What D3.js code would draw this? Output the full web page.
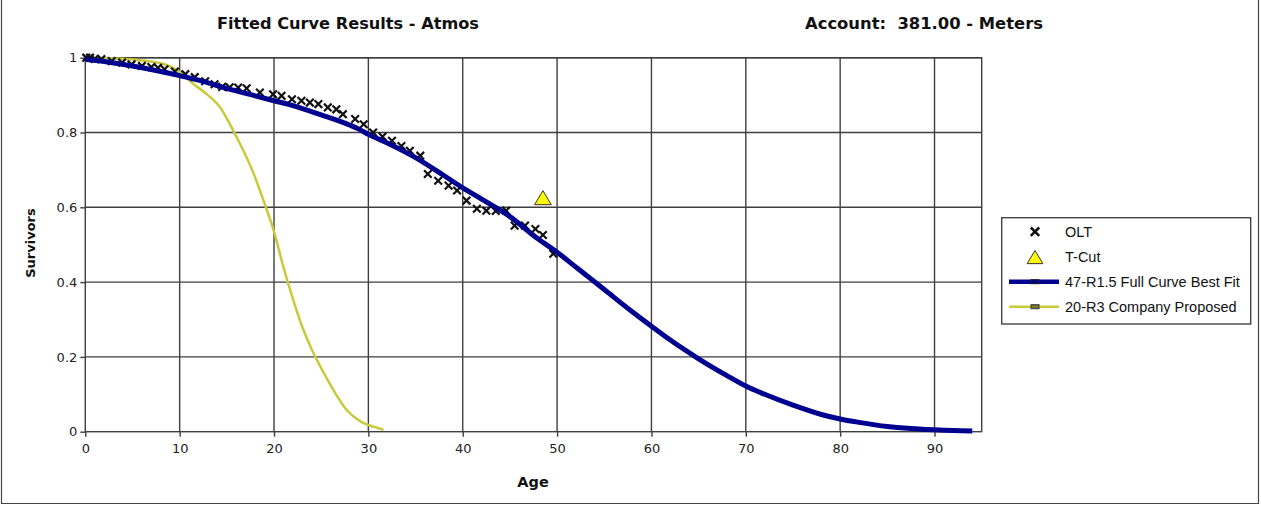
<!DOCTYPE html>
<html><head><meta charset="utf-8">
<script src="https://cdn.jsdelivr.net/npm/d3@7"></script>
<style>
html,body{margin:0;padding:0;background:#fff;}
svg{display:block;}
</style></head>
<body>
<svg id="chart" width="1261" height="506"></svg>
<script>
// ---------- data ----------
const chartTitle = "Fitted Curve Results - Atmos";
const accountTitle = "Account:  381.00 - Meters";
const xTicks = [0,10,20,30,40,50,60,70,80,90];
const yTicks = [0,0.2,0.4,0.6,0.8,1];
const yTickLabels = ["0","0.2","0.4","0.6","0.8","1"];
const seriesNames = ["OLT","T-Cut","47-R1.5 Full Curve Best Fit","20-R3 Company Proposed"];

const oltAges = [0.1,0.5,1,1.7,2.8,3.9,4.9,6.0,7.0,7.7,8.4,9.5,10.6,11.6,12.7,13.7,14.5,15.3,16.2,17.1,18.5,19.9,20.8,21.9,22.9,23.8,24.7,25.7,26.6,27.3,28.6,29.5,30.5,31.5,32.5,33.5,34.4,35.5,36.3,37.4,38.5,39.4,40.4,41.5,42.5,43.5,44.6,45.5,46.6,47.7,48.5,49.6];
const oltValues = [1.0,1.0,0.997,0.996,0.991,0.987,0.982,0.978,0.975,0.973,0.969,0.963,0.956,0.948,0.937,0.929,0.922,0.921,0.92,0.918,0.907,0.902,0.898,0.889,0.885,0.88,0.876,0.867,0.862,0.849,0.836,0.822,0.80,0.789,0.778,0.764,0.751,0.738,0.689,0.671,0.658,0.645,0.618,0.596,0.591,0.59,0.591,0.551,0.551,0.542,0.526,0.476];

const tcutAge = [48.5];
const tcutValue = [0.623];

const fitAges = [0,2,5,8,10,12,15,18,20,22,25,28,29,30,32,35,38,40,42,45,48,50,52,55,58,60,62,65,68,70,72,75,78,80,82,85,88,90,92,94];
const fitValues = [0.996,0.99,0.978,0.963,0.952,0.94,0.918,0.898,0.885,0.872,0.847,0.82,0.809,0.795,0.772,0.733,0.685,0.652,0.622,0.575,0.515,0.48,0.44,0.38,0.32,0.282,0.245,0.195,0.15,0.122,0.1,0.071,0.046,0.034,0.025,0.014,0.008,0.005,0.003,0.002];

const propAges = [0,3,5,8,10,11.5,12.9,14.3,15.7,17.1,18,19,20,21,22,23,24,25,25.7,26.3,27.7,29.2,30,31,31.6];
const propValues = [1.0,0.998,0.995,0.985,0.962,0.929,0.902,0.867,0.804,0.733,0.68,0.61,0.535,0.44,0.355,0.28,0.22,0.17,0.138,0.111,0.058,0.027,0.018,0.01,0.005];

// ---------- layout ----------
const svg = d3.select("#chart");
const plot = {left: 85.3, right: 981.7, top: 57.7, bottom: 431.7};
const x = d3.scaleLinear().domain([0,95]).range([plot.left, plot.right]);
const y = d3.scaleLinear().domain([0,1]).range([plot.bottom, plot.top]);
const gridColor = "#3f3f3f";
const blue = "#000090";
const yellow = "#c9c93c";

// outer frame
svg.append("path")
  .attr("d", `M1.5,0 V503.5 H1258.5 V0`)
  .attr("fill","none").attr("stroke","#444").attr("stroke-width",1.2);

// titles
svg.append("text").attr("x",348).attr("y",29).attr("text-anchor","middle")
  .attr("font-family","DejaVu Sans").attr("font-weight","bold").attr("font-size",15)
  .attr("textLength",262).attr("lengthAdjust","spacingAndGlyphs")
  .attr("fill","#111").text(chartTitle);
svg.append("text").attr("x",924).attr("y",29).attr("text-anchor","middle")
  .attr("font-family","DejaVu Sans").attr("font-weight","bold").attr("font-size",15)
  .attr("textLength",238).attr("lengthAdjust","spacingAndGlyphs")
  .attr("fill","#111").style("white-space","pre").text(accountTitle);

// grid
const g = svg.append("g");
g.selectAll("line.vg").data(xTicks.filter(d=>d>0)).enter().append("line")
  .attr("x1",d=>x(d)).attr("x2",d=>x(d)).attr("y1",plot.top).attr("y2",plot.bottom)
  .attr("stroke",gridColor).attr("stroke-width",1.4);
g.selectAll("line.hg").data(yTicks.filter(d=>d>0)).enter().append("line")
  .attr("x1",plot.left).attr("x2",plot.right).attr("y1",d=>y(d)).attr("y2",d=>y(d))
  .attr("stroke",gridColor).attr("stroke-width",1.4);
g.append("rect").attr("x",plot.left).attr("y",plot.top)
  .attr("width",plot.right-plot.left).attr("height",plot.bottom-plot.top)
  .attr("fill","none").attr("stroke",gridColor).attr("stroke-width",1.4);

// axes
const xAxis = d3.axisBottom(x).tickValues(xTicks).tickSize(5).tickPadding(7).tickFormat(d3.format("d"));
const yAxis = d3.axisLeft(y).tickValues(yTicks).tickSize(5).tickPadding(3).tickFormat((d,i)=>yTickLabels[i]);
const gx = svg.append("g").attr("transform",`translate(0,${plot.bottom})`).call(xAxis);
const gy = svg.append("g").attr("transform",`translate(${plot.left},0)`).call(yAxis);
[gx,gy].forEach(a=>{
  a.select(".domain").remove();
  a.selectAll(".tick line").attr("stroke",gridColor).attr("stroke-width",1.4);
  a.selectAll(".tick text").attr("font-family","DejaVu Sans").attr("font-size",13).attr("fill","#222");
});

// axis titles
svg.append("text").attr("transform",`translate(35,243) rotate(-90)`).attr("text-anchor","middle")
  .attr("font-family","DejaVu Sans").attr("font-weight","bold").attr("font-size",13).attr("fill","#111")
  .text("Survivors");
svg.append("text").attr("x",533).attr("y",487).attr("text-anchor","middle")
  .attr("font-family","DejaVu Sans").attr("font-weight","bold").attr("font-size",14.5).attr("fill","#111")
  .text("Age");

// series
const line = d3.line().x(d=>x(d[0])).y(d=>y(d[1])).curve(d3.curveMonotoneX);
const fitData = fitAges.map((a,i)=>[a,fitValues[i]]);
const propData = propAges.map((a,i)=>[a,propValues[i]]);
const oltData = oltAges.map((a,i)=>[a,oltValues[i]]);

svg.append("path").datum(propData).attr("d",line).attr("fill","none")
  .attr("stroke",yellow).attr("stroke-width",2.5);

const xMark = (cx,cy,s)=>`M${cx-s},${cy-s}L${cx+s},${cy+s}M${cx-s},${cy+s}L${cx+s},${cy-s}`;
svg.append("g").selectAll("path").data(oltData).enter().append("path")
  .attr("d",d=>xMark(x(d[0]),y(d[1]),3.8)).attr("stroke","#111").attr("stroke-width",2.2);

svg.append("path").datum(fitData).attr("d",line).attr("fill","none")
  .attr("stroke",blue).attr("stroke-width",5).attr("stroke-linejoin","round");

const tri = (cx,cy,s)=>`M${cx},${cy-s}L${cx+s*1.05},${cy+s*0.75}L${cx-s*1.05},${cy+s*0.75}Z`;
svg.append("g").selectAll("path").data(tcutAge.map((a,i)=>[a,tcutValue[i]])).enter().append("path")
  .attr("d",d=>tri(x(d[0]),y(d[1]),8)).attr("fill","#ffff00").attr("stroke","#333").attr("stroke-width",1);

// legend
const lg = svg.append("g");
lg.append("rect").attr("x",1001.7).attr("y",217.7).attr("width",249).attr("height",106.3)
  .attr("fill","#fff").attr("stroke","#444").attr("stroke-width",1.4);
const rowsY = [231.7,257,281.7,306.7];
const symX = 1035, txtX = 1065;
lg.append("path").attr("d",xMark(symX,rowsY[0],4.2)).attr("stroke","#111").attr("stroke-width",2.6);
lg.append("path").attr("d",tri(symX,rowsY[1]+1,7.5)).attr("fill","#ffff00").attr("stroke","#333").attr("stroke-width",1);
lg.append("line").attr("x1",1009).attr("x2",1059).attr("y1",rowsY[2]).attr("y2",rowsY[2])
  .attr("stroke",blue).attr("stroke-width",4.5);
lg.append("rect").attr("x",symX-4).attr("y",rowsY[2]-2).attr("width",8).attr("height",4)
  .attr("fill",blue).attr("stroke","#222").attr("stroke-width",1);
lg.append("line").attr("x1",1009).attr("x2",1059).attr("y1",rowsY[3]).attr("y2",rowsY[3])
  .attr("stroke",yellow).attr("stroke-width",2.5);
lg.append("rect").attr("x",symX-4).attr("y",rowsY[3]-2).attr("width",8).attr("height",4)
  .attr("fill","#7a7a30").attr("stroke","#333").attr("stroke-width",1);
lg.selectAll("text").data(seriesNames).enter().append("text")
  .attr("x",txtX).attr("y",(d,i)=>rowsY[i]+5)
  .attr("font-family","Liberation Sans").attr("font-size",14.5).attr("fill","#111")
  .text(d=>d);
</script>
</body></html>
